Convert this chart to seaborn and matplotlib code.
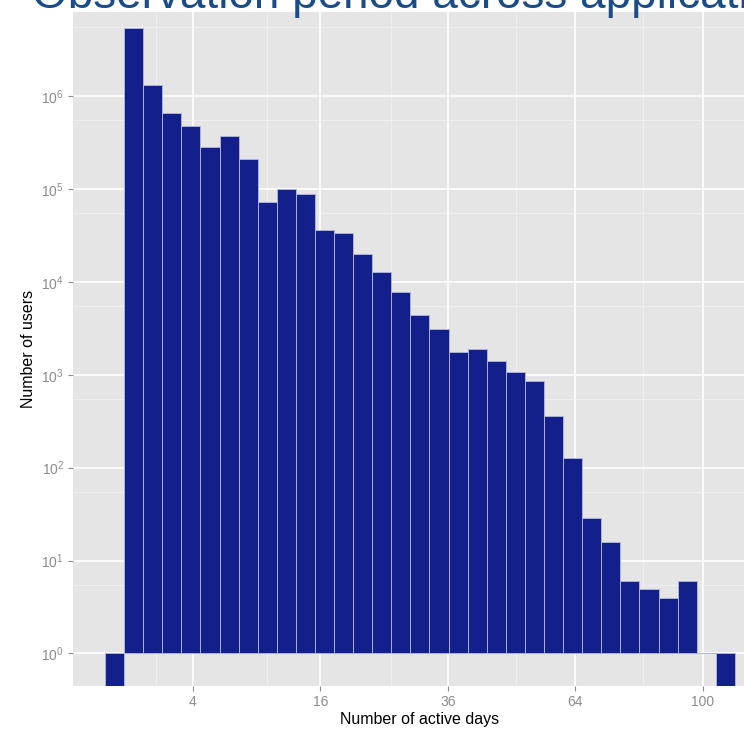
import numpy as np
import matplotlib.pyplot as plt
import seaborn as sns

# histogram of active days per user (bins taken on the sqrt(days) scale)
sqrt_edges = np.linspace(0.62, 10.50, 34)
user_counts = [0, 5.4e6, 1.33e6, 6.5e5, 4.8e5, 2.85e5, 3.7e5, 2.1e5, 7.3e4, 1.0e5,
               8.8e4, 3.6e4, 3.4e4, 2.0e4, 1.28e4, 7.7e3, 4.45e3, 3.1e3, 1.75e3, 1.9e3,
               1.41e3, 1.07e3, 850, 359, 126, 29, 16, 6, 5, 4, 6, 1, 0]

day_ticks = [4, 16, 36, 64, 100]
day_minor = [2, 10, 26, 50, 82]
decades = [0, 1, 2, 3, 4, 5, 6]

title = "Observation period across applications"
bar_color = "#13208b"

sns.set_theme(style="darkgrid", rc={
    "axes.facecolor": "#E5E5E5",
    "figure.facecolor": "white",
    "grid.color": "white",
})
plt.rcParams["font.family"] = ["Liberation Sans", "DejaVu Sans"]
plt.rcParams["mathtext.fontset"] = "custom"
plt.rcParams["mathtext.rm"] = "Liberation Sans"
plt.rcParams["mathtext.it"] = "Liberation Sans"

centers = (sqrt_edges[:-1] + sqrt_edges[1:]) / 2
with np.errstate(divide="ignore"):
    log_counts = np.log10(np.array(user_counts, dtype=float))
# empty bins go to -Inf in ggplot, i.e. down to the panel edge
log_counts[np.isinf(log_counts)] = -2

fig = plt.figure(figsize=(7.44, 7.31), dpi=100)
ax = fig.add_axes([73 / 744, 45 / 731, 693 / 744, 674 / 731])

sns.barplot(x=centers, y=log_counts, native_scale=True, width=1.0,
            color=bar_color, saturation=1, edgecolor="#aeb1da", linewidth=0.7,
            ax=ax, zorder=3)

ax.set_xlim(0.118, 0.118 + 693 / 63.75)
ax.set_ylim(-0.35, 6.905)

ax.set_xticks(np.sqrt(day_ticks))
ax.set_xticklabels([str(d) for d in day_ticks])
ax.set_xticks(np.sqrt(day_minor), minor=True)
ax.set_yticks(decades)
ax.set_yticklabels([f"$10^{{{d}}}$" for d in decades])
ax.set_yticks(np.log10([5.5 * 10 ** d for d in decades]), minor=True)

ax.grid(which="major", color="white", linewidth=1.2, zorder=0)
ax.grid(which="minor", color="#F1F1F1", linewidth=0.6, zorder=0)
ax.set_axisbelow(True)
for s in ax.spines.values():
    s.set_visible(False)

ax.tick_params(which="major", length=3.5, width=0.8, color="#8c8c8c",
               labelcolor="#8c8c8c", labelsize=10, pad=3, bottom=True, left=True)
ax.tick_params(which="minor", length=0)

ax.set_xlabel("Number of active days", fontsize=11.5, color="black", labelpad=2)
ax.set_ylabel("Number of users", fontsize=11.5, color="black", labelpad=4)

fig.text(32 / 744, 1 - 7.5 / 731, title, fontsize=33, color="#1c4c87",
         ha="left", va="baseline")

fig.savefig("out.png", dpi=100)
